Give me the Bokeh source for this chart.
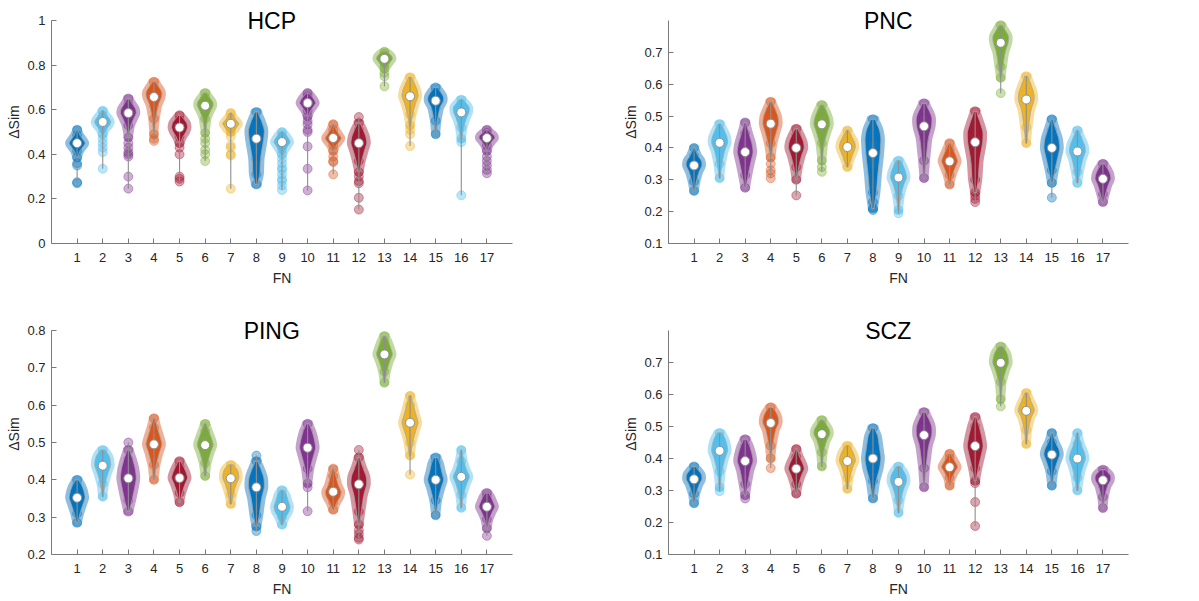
import numpy as np
from bokeh.plotting import figure
from bokeh.layouts import column, row
from bokeh.models import FixedTicker, Range1d, Label, ColumnDataSource
from bokeh.embed import file_html
from bokeh.resources import INLINE

FN = list(range(1, 18))
PALETTE = ["#0072BD", "#4DBEEE", "#7E2F8E", "#D95319", "#A2142F", "#77AC30", "#EDB120"]
FN_COLORS = [PALETTE[i % 7] for i in range(17)]

# probability levels of the body quantiles below
QPROB = [0.0, 0.1, 0.25, 0.5, 0.75, 0.9, 1.0]

# ---- data: per FN, body quantiles [min, p10, p25, median, p75, p90, max] and tail points
hcp_body = [
    [0.385, 0.415, 0.435, 0.45, 0.465, 0.485, 0.51],
    [0.49, 0.515, 0.53, 0.545, 0.56, 0.575, 0.595],
    [0.475, 0.53, 0.56, 0.585, 0.605, 0.625, 0.65],
    [0.49, 0.56, 0.62, 0.657, 0.68, 0.70, 0.725],
    [0.45, 0.48, 0.50, 0.52, 0.54, 0.555, 0.575],
    [0.495, 0.56, 0.59, 0.618, 0.635, 0.655, 0.675],
    [0.50, 0.51, 0.525, 0.537, 0.55, 0.565, 0.585],
    [0.265, 0.31, 0.38, 0.47, 0.51, 0.55, 0.59],
    [0.40, 0.42, 0.44, 0.455, 0.47, 0.485, 0.50],
    [0.57, 0.595, 0.615, 0.63, 0.645, 0.66, 0.675],
    [0.415, 0.44, 0.46, 0.473, 0.49, 0.51, 0.535],
    [0.32, 0.37, 0.415, 0.45, 0.48, 0.51, 0.54],
    [0.785, 0.80, 0.815, 0.828, 0.84, 0.85, 0.86],
    [0.53, 0.58, 0.63, 0.66, 0.69, 0.715, 0.745],
    [0.49, 0.55, 0.61, 0.64, 0.66, 0.68, 0.70],
    [0.47, 0.52, 0.56, 0.588, 0.61, 0.625, 0.645],
    [0.415, 0.44, 0.46, 0.473, 0.485, 0.495, 0.51],
]
hcp_tail = [
    [0.36, 0.35, 0.275, 0.27],
    [0.47, 0.45, 0.43, 0.41, 0.335],
    [0.45, 0.43, 0.41, 0.40, 0.39, 0.30, 0.246],
    [0.47, 0.46],
    [0.43, 0.40, 0.30, 0.29, 0.278],
    [0.47, 0.45, 0.42, 0.40, 0.37],
    [0.48, 0.44, 0.43, 0.40, 0.395, 0.246],
    [],
    [0.38, 0.36, 0.34, 0.33, 0.31, 0.29, 0.28, 0.26, 0.24],
    [0.55, 0.535, 0.51, 0.50, 0.435, 0.335, 0.238],
    [0.39, 0.37, 0.365, 0.31],
    [0.567, 0.30, 0.28, 0.27, 0.205, 0.152],
    [0.765, 0.75, 0.705],
    [0.51, 0.49, 0.437],
    [],
    [0.455, 0.216],
    [0.39, 0.37, 0.35, 0.33, 0.315],
]

pnc_body = [
    [0.265, 0.295, 0.325, 0.345, 0.36, 0.375, 0.40],
    [0.305, 0.35, 0.39, 0.416, 0.435, 0.455, 0.475],
    [0.275, 0.315, 0.355, 0.387, 0.415, 0.445, 0.48],
    [0.37, 0.415, 0.45, 0.476, 0.50, 0.52, 0.545],
    [0.30, 0.34, 0.375, 0.40, 0.42, 0.44, 0.46],
    [0.36, 0.415, 0.45, 0.474, 0.495, 0.515, 0.535],
    [0.34, 0.365, 0.385, 0.403, 0.42, 0.435, 0.455],
    [0.21, 0.26, 0.32, 0.384, 0.43, 0.46, 0.49],
    [0.205, 0.25, 0.285, 0.307, 0.325, 0.345, 0.36],
    [0.305, 0.36, 0.43, 0.468, 0.495, 0.515, 0.54],
    [0.285, 0.315, 0.34, 0.358, 0.375, 0.395, 0.415],
    [0.26, 0.30, 0.36, 0.418, 0.45, 0.48, 0.515],
    [0.62, 0.655, 0.70, 0.73, 0.75, 0.765, 0.785],
    [0.415, 0.465, 0.52, 0.552, 0.575, 0.60, 0.625],
    [0.29, 0.33, 0.37, 0.40, 0.43, 0.455, 0.49],
    [0.29, 0.325, 0.365, 0.389, 0.41, 0.43, 0.455],
    [0.23, 0.255, 0.285, 0.303, 0.32, 0.335, 0.35],
]
pnc_tail = [
    [], [], [],
    [0.35, 0.33, 0.32, 0.305],
    [0.251],
    [0.34, 0.325],
    [],
    [0.23, 0.205],
    [0.195],
    [], [],
    [0.25, 0.24, 0.23],
    [0.572],
    [],
    [0.244],
    [], [],
]

ping_body = [
    [0.285, 0.31, 0.335, 0.352, 0.37, 0.385, 0.40],
    [0.355, 0.39, 0.42, 0.438, 0.455, 0.468, 0.48],
    [0.315, 0.345, 0.375, 0.404, 0.43, 0.455, 0.48],
    [0.40, 0.44, 0.475, 0.495, 0.515, 0.54, 0.565],
    [0.34, 0.365, 0.39, 0.405, 0.42, 0.435, 0.45],
    [0.41, 0.445, 0.475, 0.493, 0.51, 0.53, 0.55],
    [0.335, 0.36, 0.39, 0.404, 0.42, 0.43, 0.44],
    [0.275, 0.305, 0.35, 0.38, 0.405, 0.425, 0.45],
    [0.28, 0.30, 0.315, 0.328, 0.345, 0.36, 0.372],
    [0.39, 0.43, 0.465, 0.486, 0.51, 0.53, 0.55],
    [0.32, 0.34, 0.355, 0.368, 0.385, 0.41, 0.43],
    [0.28, 0.315, 0.36, 0.388, 0.41, 0.43, 0.46],
    [0.66, 0.69, 0.72, 0.736, 0.752, 0.77, 0.785],
    [0.465, 0.50, 0.535, 0.553, 0.575, 0.60, 0.625],
    [0.305, 0.345, 0.38, 0.40, 0.42, 0.445, 0.46],
    [0.325, 0.36, 0.395, 0.408, 0.425, 0.45, 0.48],
    [0.27, 0.295, 0.315, 0.328, 0.34, 0.355, 0.365],
]
ping_tail = [
    [], [],
    [0.50],
    [], [], [], [],
    [0.465, 0.263],
    [],
    [0.38, 0.316],
    [],
    [0.48, 0.265, 0.255, 0.245, 0.24],
    [],
    [0.414],
    [], [],
    [0.25],
]

scz_body = [
    [0.26, 0.29, 0.32, 0.335, 0.35, 0.36, 0.375],
    [0.31, 0.36, 0.40, 0.424, 0.445, 0.465, 0.48],
    [0.285, 0.32, 0.365, 0.392, 0.415, 0.44, 0.46],
    [0.40, 0.44, 0.49, 0.511, 0.53, 0.545, 0.56],
    [0.29, 0.32, 0.35, 0.368, 0.385, 0.405, 0.43],
    [0.375, 0.42, 0.455, 0.476, 0.49, 0.505, 0.52],
    [0.305, 0.34, 0.375, 0.392, 0.41, 0.425, 0.44],
    [0.275, 0.33, 0.37, 0.40, 0.44, 0.47, 0.495],
    [0.23, 0.27, 0.305, 0.327, 0.345, 0.36, 0.375],
    [0.31, 0.37, 0.44, 0.473, 0.50, 0.52, 0.545],
    [0.315, 0.34, 0.36, 0.373, 0.385, 0.40, 0.415],
    [0.33, 0.37, 0.41, 0.439, 0.47, 0.50, 0.53],
    [0.585, 0.64, 0.68, 0.699, 0.72, 0.735, 0.75],
    [0.445, 0.49, 0.53, 0.549, 0.565, 0.585, 0.605],
    [0.315, 0.36, 0.39, 0.412, 0.43, 0.45, 0.48],
    [0.30, 0.34, 0.375, 0.40, 0.42, 0.445, 0.48],
    [0.245, 0.28, 0.315, 0.332, 0.345, 0.355, 0.365],
]
scz_tail = [
    [],
    [0.298],
    [0.275],
    [0.37],
    [], [], [], [], [], [], [],
    [0.323, 0.264, 0.189],
    [0.563],
    [], [], [], [],
]

hcp_yticks = [0, 0.2, 0.4, 0.6, 0.8, 1]
hcp_ylabels = ["0", "0.2", "0.4", "0.6", "0.8", "1"]
pnc_yticks = [0.1, 0.2, 0.3, 0.4, 0.5, 0.6, 0.7]
pnc_ylabels = ["0.1", "0.2", "0.3", "0.4", "0.5", "0.6", "0.7"]
ping_yticks = [0.2, 0.3, 0.4, 0.5, 0.6, 0.7, 0.8]
ping_ylabels = ["0.2", "0.3", "0.4", "0.5", "0.6", "0.7", "0.8"]
scz_yticks = pnc_yticks
scz_ylabels = pnc_ylabels

FONT = "Liberation Sans"
GRAY = "#8f8f8f"
AXIS = "#7a7a7a"
HALF_W = 0.31


def violin_outline(q, xc):
    q = np.asarray(q, dtype=float)
    pr = np.asarray(QPROB)
    seg = np.diff(pr) / np.maximum(np.diff(q), 1e-4)
    knot = np.empty(len(q))
    knot[1:-1] = 0.5 * (seg[:-1] + seg[1:])
    knot[0] = 0.3 * seg[0]
    knot[-1] = 0.3 * seg[-1]
    n = 140
    ys = np.linspace(q[0], q[-1], n)
    d = np.interp(ys, q, knot)
    k = np.arange(-12, 13)
    g = np.exp(-0.5 * (k / 4.0) ** 2)
    num = np.convolve(d, g, mode="same")
    den = np.convolve(np.ones(n), g, mode="same")
    d = num / den
    w = d / d.max() * HALF_W
    xs = np.concatenate([xc - w, (xc + w)[::-1]])
    yy = np.concatenate([ys, ys[::-1]])
    return list(xs), list(yy)


def make_panel(name, body, tail, lo, hi, yticks, ylabels, w, h, ml, mr, mt, mb,
               axis_px, extra_px):
    top = hi + (hi - lo) * extra_px / axis_px
    p = figure(width=w, height=h, x_range=Range1d(0, 18), y_range=Range1d(lo, top),
               output_backend="svg", toolbar_location=None,
               min_border_left=ml, min_border_right=mr,
               min_border_top=mt, min_border_bottom=mb)
    p.outline_line_color = None
    p.xgrid.visible = False
    p.ygrid.visible = False
    p.background_fill_color = "white"

    xs_all, ys_all, cols = [], [], []
    px, py, pc = [], [], []
    wx, wy0, wy1 = [], [], []
    mx, my = [], []
    for i, fn in enumerate(FN):
        xs, ys = violin_outline(body[i], fn)
        xs_all.append(xs)
        ys_all.append(ys)
        cols.append(FN_COLORS[i])
        vals = list(body[i]) + list(tail[i])
        for v in vals:
            px.append(fn)
            py.append(v)
            pc.append(FN_COLORS[i])
        wx.append(fn)
        wy0.append(min(vals))
        wy1.append(max(vals))
        mx.append(fn)
        my.append(float(np.median(body[i])))

    vsrc = ColumnDataSource(dict(xs=xs_all, ys=ys_all, c=cols))
    p.scatter(px, py, size=9, fill_color=pc, fill_alpha=0.38,
              line_color=pc, line_alpha=0.4, line_width=1)
    p.patches("xs", "ys", source=vsrc, fill_color="c", fill_alpha=0.95,
              line_color="c", line_alpha=0.45, line_width=8, line_join="round")
    p.patches("xs", "ys", source=vsrc, fill_alpha=0, line_color="#a8a8a8",
              line_width=1)
    p.segment(x0=wx, y0=wy0, x1=wx, y1=wy1, line_color=GRAY, line_width=1.1)
    p.scatter(mx, my, size=9, fill_color="white", line_color=GRAY, line_width=1)

    p.xaxis.ticker = FixedTicker(ticks=FN)
    p.yaxis.ticker = FixedTicker(ticks=yticks)
    p.yaxis.bounds = (lo, hi)
    p.yaxis.major_label_overrides = {t: l for t, l in zip(yticks, ylabels)}
    p.xaxis.axis_label = "FN"
    p.yaxis.axis_label = "\u0394Sim"
    for ax in (p.xaxis[0], p.yaxis[0]):
        ax.axis_line_color = AXIS
        ax.axis_line_width = 1
        ax.major_tick_line_color = AXIS
        ax.major_tick_in = 5
        ax.major_tick_out = 0
        ax.minor_tick_line_color = None
        ax.major_label_text_font = FONT
        ax.major_label_text_font_size = "13px"
        ax.major_label_text_color = "#262626"
        ax.axis_label_text_font = FONT
        ax.axis_label_text_font_size = "14px"
        ax.axis_label_text_font_style = "normal"
        ax.axis_label_text_color = "#262626"
    p.xaxis.major_label_standoff = 9
    p.xaxis.axis_label_standoff = 5
    p.yaxis.major_label_standoff = 6
    p.yaxis.axis_label_standoff = 2

    p.add_layout(Label(x=8.6, y=hi, text=name, text_align="center",
                       text_baseline="middle", text_font=FONT,
                       text_font_size="23px", text_color="black"))
    return p


p1 = make_panel("HCP", hcp_body, hcp_tail, 0, 1, hcp_yticks, hcp_ylabels,
                600, 297, 51, 88, 0, 54, 223, 20)
p2 = make_panel("PNC", pnc_body, pnc_tail, 0.1, 0.8, pnc_yticks, pnc_ylabels,
                598, 297, 68, 70, 0, 54, 223, 20)
p3 = make_panel("PING", ping_body, ping_tail, 0.2, 0.8, ping_yticks, ping_ylabels,
                600, 303, 51, 88, 16, 46, 224, 17)
p4 = make_panel("SCZ", scz_body, scz_tail, 0.1, 0.8, scz_yticks, scz_ylabels,
                598, 303, 68, 70, 16, 46, 224, 17)

layout = column(row(p1, p2), row(p3, p4))
open("out.html", "w").write(file_html(layout, INLINE))
